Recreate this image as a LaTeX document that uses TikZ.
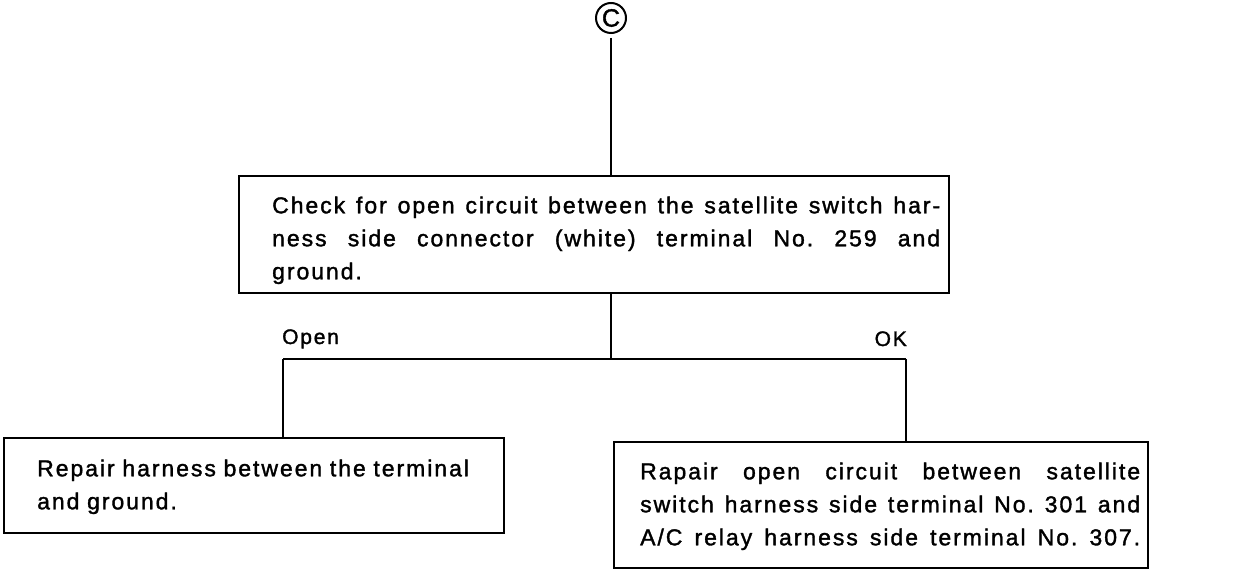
\documentclass[tikz,border=0pt]{standalone}
\usepackage{fontspec}
\setmainfont{Liberation Sans}[LetterSpace=8.5,FakeBold=1.5]
\newcommand\jline[2]{\makebox[#1][s]{\frenchspacing\spaceskip=0.25em plus 1fil\relax\strut #2}}
\begin{document}
\begin{tikzpicture}[x=1pt,y=-1pt,
  box/.style={draw, line width=2pt, rectangle, inner sep=0pt, anchor=north west},
  txt/.style={inner sep=0pt, anchor=north west, align=left, font=\fontsize{23}{33}\selectfont},
  lbl/.style={inner sep=0pt, font=\fontsize{21}{24}\selectfont},
  wire/.style={line width=2pt}]
\useasboundingbox (0,0) rectangle (1248,572);
% circle connector
\node[circle, draw, line width=2pt, minimum size=30pt, inner sep=0pt, font=\fontsize{25}{25}\selectfont] (c) at (611,18) {C};
% box 1
\node[box, minimum width=710pt, minimum height=117pt] (b1) at (238,175) {};
\node[txt, text width=668pt] (t1) at (272,190) {%
\jline{668pt}{Check for open circuit between the satellite switch har-}\\
\jline{668pt}{ness side connector (white) terminal No. 259 and}\\
\strut ground.};
% box 2
\node[box, minimum width=500pt, minimum height=95pt] (b2) at (3,437) {};
\node[txt, text width=460pt] (t2) at (37,453) {%
\strut Repair harness between the terminal\\
\strut and ground.};
% box 3
\node[box, minimum width=534pt, minimum height=126pt] (b3) at (613,441) {};
\node[txt, text width=500pt] (t3) at (640,456) {%
\jline{500pt}{Rapair open circuit between satellite}\\
\jline{500pt}{switch harness side terminal No. 301 and}\\
\jline{500pt}{A/C relay harness side terminal No. 307.}};
% junctions
\coordinate (j) at (611,359);
\coordinate (jl) at (283,359);
\coordinate (jr) at (906,359);
% labels
\node[lbl, anchor=base west] (open) at (282,344) {Open};
\node[lbl, anchor=base east] (ok) at (907,346) {OK};
% connectors
\draw[wire, shorten <=4pt] (c.south) -- (b1.north -| c);
\draw[wire] (b1.south -| j) -- (j);
\draw[wire] (jl) -- (jr);
\draw[wire] (jl) -- (jl |- b2.north);
\draw[wire] (jr) -- (jr |- b3.north);
\end{tikzpicture}
\end{document}
